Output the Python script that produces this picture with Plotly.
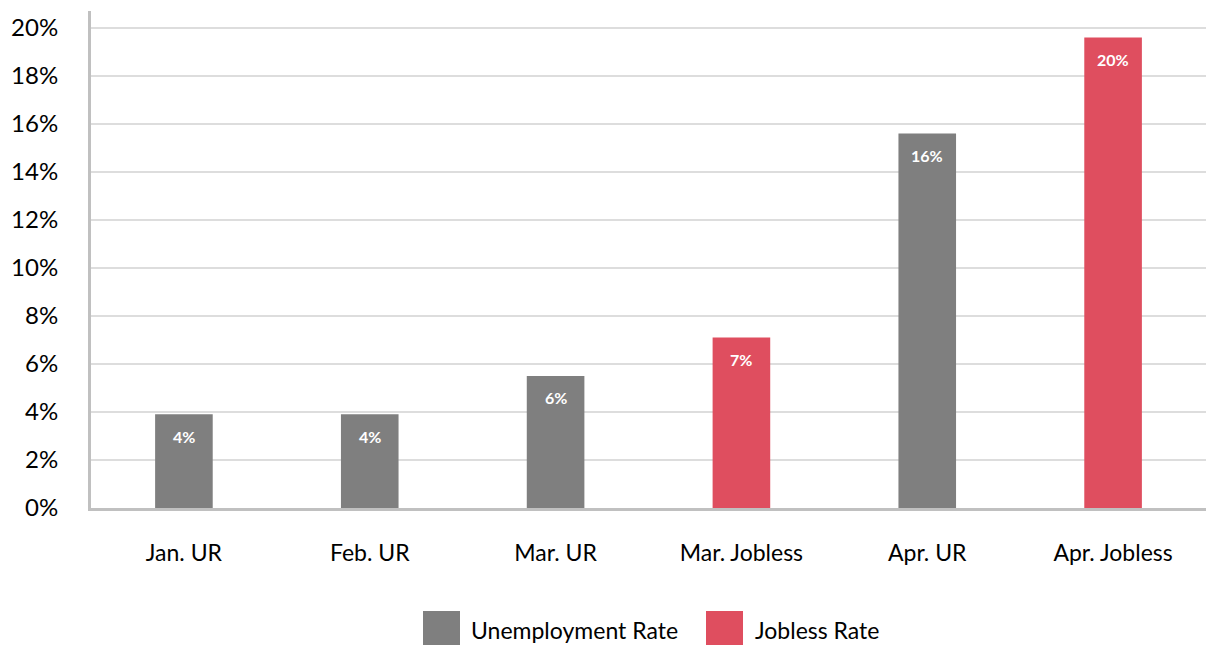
import plotly.graph_objects as go

categories = ["Jan. UR", "Feb. UR", "Mar. UR", "Mar. Jobless", "Apr. UR", "Apr. Jobless"]
ur_categories = ["Jan. UR", "Feb. UR", "Mar. UR", "Apr. UR"]
ur_values = [3.9, 3.9, 5.5, 15.6]
jobless_categories = ["Mar. Jobless", "Apr. Jobless"]
jobless_values = [7.1, 19.6]
y_ticks = [0, 2, 4, 6, 8, 10, 12, 14, 16, 18, 20]
y_tick_labels = [f"{v}%" for v in y_ticks]
legend_names = ["Unemployment Rate", "Jobless Rate"]

GRAY = "#7f7f7f"
RED = "#df4e5f"
FONT = "Lato"

fig = go.Figure()
for cats, vals, color in [(ur_categories, ur_values, GRAY), (jobless_categories, jobless_values, RED)]:
    fig.add_trace(go.Bar(
        x=cats, y=vals, marker=dict(color=color, line=dict(width=0)),
        showlegend=False, width=0.31, hoverinfo="x+y",
    ))
    for c, v in zip(cats, vals):
        fig.add_annotation(x=c, y=v, text=f"<b>{v:.0f}%</b>", showarrow=False,
                           yanchor="middle", yshift=-22,
                           font=dict(color="white", size=16, family=FONT))

fig.update_layout(
    width=1206, height=645,
    margin=dict(l=91, r=0, t=11, b=137),
    plot_bgcolor="white", paper_bgcolor="white",
    barmode="overlay",
    font=dict(family=FONT, color="black"),
    xaxis=dict(categoryorder="array", categoryarray=categories,
               tickfont=dict(size=23, color="black"), showline=True,
               linecolor="#c0c0c0", linewidth=3, ticks="", ticklabelstandoff=22,
               showgrid=False),
    yaxis=dict(range=[0, 20.7], tickvals=y_ticks, ticktext=y_tick_labels,
               tickfont=dict(size=24, color="black"), showline=True,
               linecolor="#c0c0c0", linewidth=3, gridcolor="#dddddd", gridwidth=2,
               zeroline=False, ticks="", ticklabelstandoff=25),
)

# legend drawn as paper shapes + text
legend_items = [(legend_names[0], GRAY, 423, 469), (legend_names[1], RED, 706, 753)]
for name, color, sx, tx in legend_items:
    fig.add_shape(type="rect", xref="paper", yref="paper",
                  x0=(sx - 91) / 1115, x1=(sx + 37 - 91) / 1115,
                  y0=(497 - (648 - 11)) / 497, y1=(497 - (611 - 11)) / 497,
                  fillcolor=color, line=dict(width=0))
    fig.add_annotation(x=(tx - 91) / 1115, y=(497 - (630 - 11)) / 497, xref="paper", yref="paper",
                       text=name, showarrow=False, xanchor="left", yanchor="middle",
                       font=dict(size=23, color="black", family=FONT))

fig.write_html("out.html", config={"displayModeBar": False},
               post_script="document.body.style.margin='0px';")
